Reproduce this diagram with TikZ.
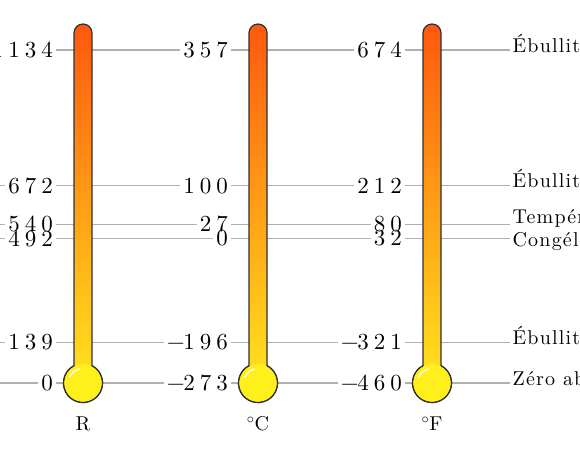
\documentclass[tikz,border=0pt]{standalone}
\usepackage{fontspec}
\newfontfamily\widefont{lmroman10-regular.otf}[LetterSpace=22]
\newfontfamily\eventfont{lmroman10-regular.otf}[LetterSpace=6]
\usetikzlibrary{positioning}

\definecolor{levelgray}{RGB}{176,176,176}
\definecolor{outlinegray}{RGB}{48,48,48}
\definecolor{hotred}{RGB}{255,88,14}
\definecolor{warmyellow}{RGB}{255,236,30}
\definecolor{bulbyellow}{RGB}{255,240,28}

\newcommand{\mn}{−\kern-1.5pt}

\tikzset{every picture/.style={line width=1.2pt},
  level/.style={draw=levelgray, line width=1.1pt},
  value/.style={anchor=east, inner xsep=2.5pt, inner ysep=0.5pt, font=\widefont\fontsize{23}{23}\selectfont},
  event/.style={anchor=mid west, inner xsep=2pt, inner ysep=0.5pt, font=\eventfont\fontsize{20}{20}\selectfont},
  unit/.style={anchor=north, inner sep=0pt, font=\eventfont\fontsize{20}{20}\selectfont},
}

% one thermometer: tube with rounded top and a bulb at the bottom
\newcommand{\thermo}[1]{%
  \shade [top color=hotred, bottom color=warmyellow, draw=outlinegray]
    (#1-9,33) -- (#1-9,365.7) arc [start angle=242.5, end angle=-62.5, radius=19.5]
    -- (#1+9,33) arc [start angle=0, end angle=-180, radius=9] -- cycle;
  \fill [bulbyellow] (#1,383) circle [radius=18.8];
  \draw [outlinegray] (#1-9,365.7) arc [start angle=242.5, end angle=-62.5, radius=19.5];
  \draw [white, opacity=0.85, line width=1.6pt, line cap=round]
    (#1,383) ++(205:14.5) arc [start angle=205, end angle=255, radius=14.5];
}

\begin{document}
\begin{tikzpicture}[x=1pt,y=1pt,yscale=-1,xscale=1]
\clip (0,0) rectangle (580,460);
\useasboundingbox (0,0) rectangle (580,460);

% Text Node
\node [value] (r1) at (56,50) {1134};
\node [value] (r2) at (56,185.6) {672};
\node [value] (r3) at (56,224.4) {540};
\node [value] (r4) at (56,238.5) {492};
\node [value] (r5) at (56,342.2) {139};
\node [value] (r6) at (56,383) {0};
% Text Node
\node [value] (c1) at (231,50) {357};
\node [value] (c2) at (231,185.6) {100};
\node [value] (c3) at (231,224.4) {27};
\node [value] (c4) at (231,238.5) {0};
\node [value] (c5) at (231,342.2) {\mn196};
\node [value] (c6) at (231,383) {\mn273};
% Text Node
\node [value] (f1) at (405,50) {674};
\node [value] (f2) at (405,185.6) {212};
\node [value] (f3) at (405,224.4) {80};
\node [value] (f4) at (405,238.5) {32};
\node [value] (f5) at (405,342.2) {\mn321};
\node [value] (f6) at (405,383) {\mn460};
% Text Node
\node [event] (e1) at (510,50) {Ébullition du mercure};
\node [event] (e2) at (510,185.6) {Ébullition de l'eau};
\node [event] (e3) at (510,221) {Température ambiante};
\node [event] (e4) at (510,244) {Congélation de l'eau};
\node [event] (e5) at (510,342.2) {Ébullition de l'azote};
\node [event] (e6) at (510,383) {Zéro absolu};

% lines come in from the column left of the picture
\coordinate (k1) at (-10,50);
\coordinate (k2) at (-10,185.6);
\coordinate (k3) at (-10,224.4);
\coordinate (k4) at (-10,238.5);
\coordinate (k5) at (-10,342.2);
\coordinate (k6) at (-10,383);

%Straight Lines
\draw [level] (k1) -- (r1.west) (r1.east) -- (c1.west) (c1.east) -- (f1.west) (f1.east) -- (e1.west |- f1.east);
\draw [level] (k2) -- (r2.west) (r2.east) -- (c2.west) (c2.east) -- (f2.west) (f2.east) -- (e2.west |- f2.east);
\draw [level] (k3) -- (r3.west) (r3.east) -- (c3.west) (c3.east) -- (f3.west) (f3.east) -- (e3.west |- f3.east);
\draw [level] (k4) -- (r4.west) (r4.east) -- (c4.west) (c4.east) -- (f4.west) (f4.east) -- (e4.west |- f4.east);
\draw [level] (k5) -- (r5.west) (r5.east) -- (c5.west) (c5.east) -- (f5.west) (f5.east) -- (e5.west |- f5.east);
\draw [level] (k6) -- (r6.west) (r6.east) -- (c6.west) (c6.east) -- (f6.west) (f6.east) -- (e6.west |- f6.east);

%Shape: Thermometers
\thermo{83}
\thermo{258}
\thermo{432}

% Text Node
\node [unit] (ur) at (83,416) {R};
\node [unit] (uc) at (258,416) {$^{\circ}$C};
\node [unit] (uf) at (432,416) {$^{\circ}$F};

\end{tikzpicture}
\end{document}
